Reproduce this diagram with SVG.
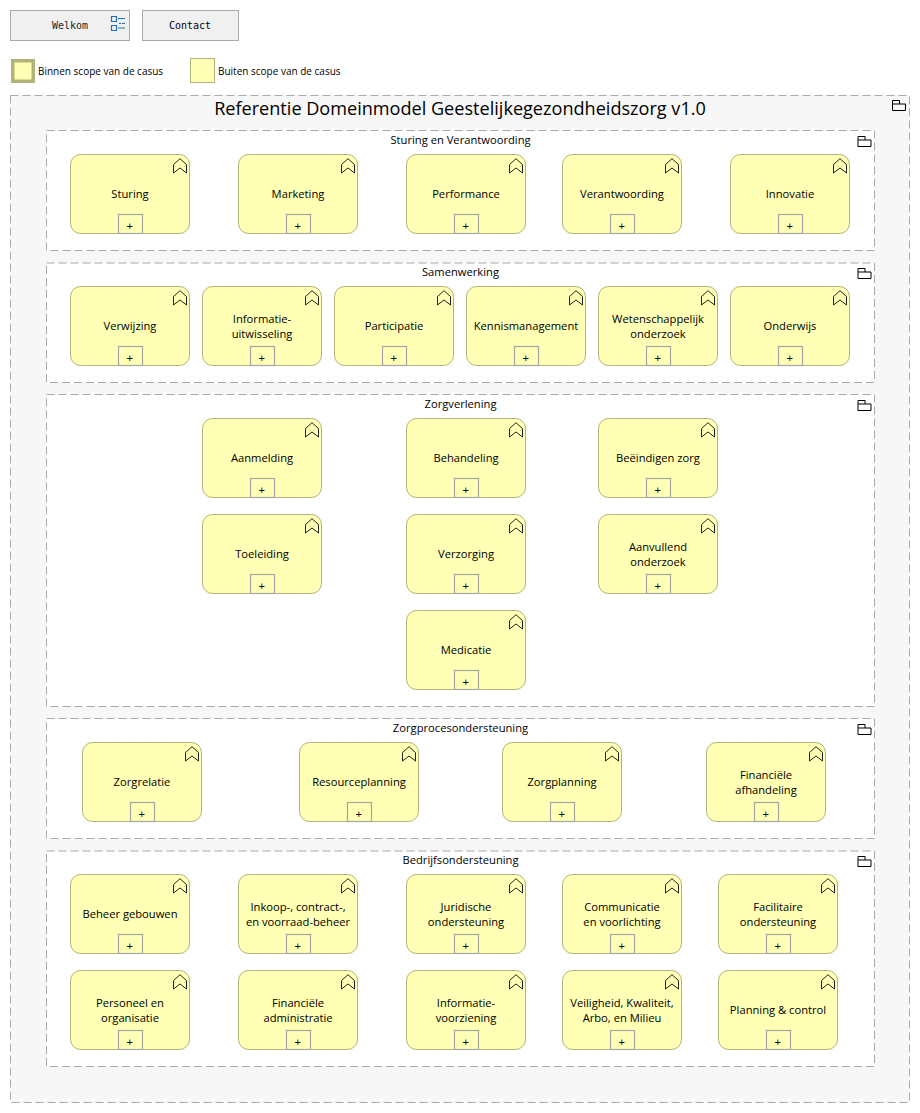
<svg xmlns="http://www.w3.org/2000/svg" xmlns:xlink="http://www.w3.org/1999/xlink" width="920" height="1113" viewBox="0 0 920 1113">
<style>
text{font-family:"Open Sans","Noto Sans","Liberation Sans",sans-serif;fill:#000;text-anchor:middle}
.n{fill:#ffffb5;stroke:#b2b27a;stroke-width:1}
.l{font-size:11.2px}
.p{fill:none;stroke:#a6a6a6;stroke-width:1.2}
.pt{font-family:"Liberation Sans",sans-serif;font-size:11px;font-weight:400}
.ch{fill:none;stroke:#222;stroke-width:1}
.g{fill:#fff;stroke:#aaa;stroke-width:1;stroke-dasharray:8 4}
.f{fill:none;stroke:#000;stroke-width:1}
.b{fill:#f0f0f0;stroke:#aaa;stroke-width:1}
.m{font-family:"DejaVu Sans Mono","Liberation Mono",monospace;font-size:10px}
.s{font-size:10px;text-anchor:start}
.t{font-size:11.2px}
</style>
<defs>
<g id="box">
<rect class="n" x="0.5" y="0.5" width="119" height="79" rx="10" ry="10"/>
<path class="ch" d="M103.500 10.500L110 4.700L116.500 10.500V19L110 14L103.500 19Z"/>
<rect class="p" x="48.500" y="60.500" width="24" height="19"/>
<text class="pt" x="59.700" y="76">+</text>
</g>
<path id="folder" class="f" d="M0.500 10.500V0.500H7.500V4H13.500V10.500Z M0.500 4H7.500"/>
</defs>

<g id="btn-welkom">
<rect class="b" x="10.500" y="10.500" width="119" height="30"/>
<text class="m" x="70" y="29" style="fill:#222">Welkom</text>
<path fill="none" stroke="#1f6fb5" stroke-width="1.200" d="M111.500 16.500h5v5h-5zM111.500 25.500h5v5h-5zM118 18.500h7M119 23.500h2M122 23.500h3M118 28h7"/>
</g>
<g id="btn-contact">
<rect class="b" x="142.500" y="10.500" width="96" height="30"/>
<text class="m" x="190" y="29">Contact</text>
</g>
<g id="legend-binnen">
<rect x="12.750" y="60.750" width="20.500" height="20.500" fill="#ffffb5" stroke="#b2b27a" stroke-width="3.500"/>
<text class="s" x="38" y="74.500">Binnen scope van de casus</text>
</g>
<g id="legend-buiten">
<rect class="n" x="190.500" y="58.500" width="24" height="24"/>
<text class="s" x="218" y="74.500">Buiten scope van de casus</text>
</g>

<g id="container">
<rect class="g" x="10.500" y="95.500" width="899" height="1007" style="fill:#f7f7f7"/>
<use xlink:href="#folder" x="892" y="100"/>
<text x="460" y="114.500" style="font-size:18.100px">Referentie Domeinmodel Geestelijkegezondheidszorg v1.0</text>
</g>

<g id="group-sturing">
<rect class="g" x="46.500" y="130.500" width="828" height="120"/>
<use xlink:href="#folder" x="857.500" y="136"/>
<text class="t" x="460.500" y="144">Sturing en Verantwoording</text>
</g>
<g id="group-samenwerking">
<rect class="g" x="46.500" y="263" width="828" height="119.500"/>
<use xlink:href="#folder" x="857.500" y="268"/>
<text class="t" x="460.500" y="276">Samenwerking</text>
</g>
<g id="group-zorgverlening">
<rect class="g" x="46.500" y="394.500" width="828" height="312"/>
<use xlink:href="#folder" x="857.500" y="400"/>
<text class="t" x="460.500" y="408">Zorgverlening</text>
</g>
<g id="group-zorgproces">
<rect class="g" x="46.500" y="718.500" width="828" height="120"/>
<use xlink:href="#folder" x="857.500" y="724"/>
<text class="t" x="460.500" y="732">Zorgprocesondersteuning</text>
</g>
<g id="group-bedrijf">
<rect class="g" x="46.500" y="851" width="828" height="215.500"/>
<use xlink:href="#folder" x="857.500" y="856"/>
<text class="t" x="460.500" y="864">Bedrijfsondersteuning</text>
</g>

<g id="connectors"></g>

<g id="n-sturing" transform="translate(70 154)"><use xlink:href="#box"/><text class="l" x="60" y="44">Sturing</text></g>
<g id="n-marketing" transform="translate(238 154)"><use xlink:href="#box"/><text class="l" x="60" y="44">Marketing</text></g>
<g id="n-performance" transform="translate(406 154)"><use xlink:href="#box"/><text class="l" x="60" y="44">Performance</text></g>
<g id="n-verantwoording" transform="translate(562 154)"><use xlink:href="#box"/><text class="l" x="60" y="44">Verantwoording</text></g>
<g id="n-innovatie" transform="translate(730 154)"><use xlink:href="#box"/><text class="l" x="60" y="44">Innovatie</text></g>

<g id="n-verwijzing" transform="translate(70 286)"><use xlink:href="#box"/><text class="l" x="60" y="44">Verwijzing</text></g>
<g id="n-informatie-uitwisseling" transform="translate(202 286)"><use xlink:href="#box"/><text class="l" x="60" y="37">Informatie-</text><text class="l" x="60" y="52">uitwisseling</text></g>
<g id="n-participatie" transform="translate(334 286)"><use xlink:href="#box"/><text class="l" x="60" y="44">Participatie</text></g>
<g id="n-kennismanagement" transform="translate(466 286)"><use xlink:href="#box"/><text class="l" x="60" y="44">Kennismanagement</text></g>
<g id="n-wetenschappelijk" transform="translate(598 286)"><use xlink:href="#box"/><text class="l" x="60" y="37">Wetenschappelijk</text><text class="l" x="60" y="52">onderzoek</text></g>
<g id="n-onderwijs" transform="translate(730 286)"><use xlink:href="#box"/><text class="l" x="60" y="44">Onderwijs</text></g>

<g id="n-aanmelding" transform="translate(202 418)"><use xlink:href="#box"/><text class="l" x="60" y="44">Aanmelding</text></g>
<g id="n-behandeling" transform="translate(406 418)"><use xlink:href="#box"/><text class="l" x="60" y="44">Behandeling</text></g>
<g id="n-beeindigen" transform="translate(598 418)"><use xlink:href="#box"/><text class="l" x="60" y="44">Beëindigen zorg</text></g>
<g id="n-toeleiding" transform="translate(202 514)"><use xlink:href="#box"/><text class="l" x="60" y="44">Toeleiding</text></g>
<g id="n-verzorging" transform="translate(406 514)"><use xlink:href="#box"/><text class="l" x="60" y="44">Verzorging</text></g>
<g id="n-aanvullend" transform="translate(598 514)"><use xlink:href="#box"/><text class="l" x="60" y="37">Aanvullend</text><text class="l" x="60" y="52">onderzoek</text></g>
<g id="n-medicatie" transform="translate(406 610)"><use xlink:href="#box"/><text class="l" x="60" y="44">Medicatie</text></g>

<g id="n-zorgrelatie" transform="translate(82 742)"><use xlink:href="#box"/><text class="l" x="60" y="44">Zorgrelatie</text></g>
<g id="n-resourceplanning" transform="translate(299 742)"><use xlink:href="#box"/><text class="l" x="60" y="44">Resourceplanning</text></g>
<g id="n-zorgplanning" transform="translate(502 742)"><use xlink:href="#box"/><text class="l" x="60" y="44">Zorgplanning</text></g>
<g id="n-financiele-afhandeling" transform="translate(706 742)"><use xlink:href="#box"/><text class="l" x="60" y="37">Financiële</text><text class="l" x="60" y="52">afhandeling</text></g>

<g id="n-beheer" transform="translate(70 874)"><use xlink:href="#box"/><text class="l" x="60" y="44">Beheer gebouwen</text></g>
<g id="n-inkoop" transform="translate(238 874)"><use xlink:href="#box"/><text class="l" x="60" y="37">Inkoop-, contract-,</text><text class="l" x="60" y="52">en voorraad-beheer</text></g>
<g id="n-juridische" transform="translate(406 874)"><use xlink:href="#box"/><text class="l" x="60" y="37">Juridische</text><text class="l" x="60" y="52">ondersteuning</text></g>
<g id="n-communicatie" transform="translate(562 874)"><use xlink:href="#box"/><text class="l" x="60" y="37">Communicatie</text><text class="l" x="60" y="52">en voorlichting</text></g>
<g id="n-facilitaire" transform="translate(718 874)"><use xlink:href="#box"/><text class="l" x="60" y="37">Facilitaire</text><text class="l" x="60" y="52">ondersteuning</text></g>
<g id="n-personeel" transform="translate(70 970)"><use xlink:href="#box"/><text class="l" x="60" y="37">Personeel en</text><text class="l" x="60" y="52">organisatie</text></g>
<g id="n-financiele-adm" transform="translate(238 970)"><use xlink:href="#box"/><text class="l" x="60" y="37">Financiële</text><text class="l" x="60" y="52">administratie</text></g>
<g id="n-informatievoorziening" transform="translate(406 970)"><use xlink:href="#box"/><text class="l" x="60" y="37">Informatie-</text><text class="l" x="60" y="52">voorziening</text></g>
<g id="n-veiligheid" transform="translate(562 970)"><use xlink:href="#box"/><text class="l" x="60" y="37">Veiligheid, Kwaliteit,</text><text class="l" x="60" y="52">Arbo, en Milieu</text></g>
<g id="n-planning" transform="translate(718 970)"><use xlink:href="#box"/><text class="l" x="60" y="44">Planning &amp; control</text></g>
</svg>
